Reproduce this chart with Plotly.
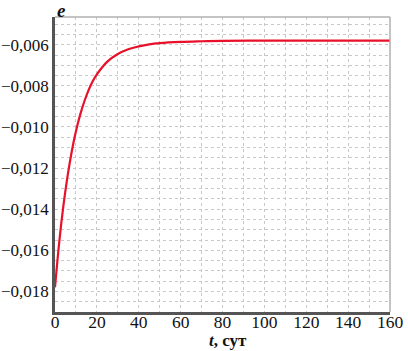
import plotly.graph_objects as go

t_days = [0, 2, 4, 6, 8, 10, 12, 14, 16, 18, 20, 25, 30, 35, 40, 45, 50, 60, 70, 80, 100, 120, 140, 160]
e_vals = [-0.0178, -0.01562, -0.01384, -0.01239, -0.01119, -0.01021, -0.00941, -0.00876,
          -0.00822, -0.00778, -0.00744, -0.00682, -0.00645, -0.00622, -0.00608, -0.00598,
          -0.00592, -0.00586, -0.00583, -0.00581, -0.0058, -0.0058, -0.0058, -0.0058]

x_ticks = [0, 20, 40, 60, 80, 100, 120, 140, 160]
y_ticks = [-0.018, -0.016, -0.014, -0.012, -0.010, -0.008, -0.006]

FONT = "Liberation Serif"

fig = go.Figure()
fig.add_trace(go.Scatter(x=t_days, y=e_vals, mode="lines",
                         line=dict(color="#e8102a", width=2.2, shape="spline"),
                         hoverinfo="skip", showlegend=False))

grid = "#c8c8c8"
fig.update_layout(
    width=408, height=351,
    autosize=False,
    margin=dict(l=55, r=18, t=17, b=39, autoexpand=False),
    paper_bgcolor="white", plot_bgcolor="white",
    separators=", ",
    font=dict(family=FONT, size=16, color="#111111"),
    xaxis=dict(range=[0, 160], tickvals=x_ticks, ticktext=[str(v) for v in x_ticks],
               automargin=False, ticklabelstandoff=-8,
               showgrid=True, gridcolor=grid, griddash="dot", gridwidth=1,
               minor=dict(dtick=10, tick0=0, showgrid=True, gridcolor=grid, griddash="dot", gridwidth=1),
               showline=True, linecolor="#555555", linewidth=2.5, mirror=False,
               ticks="", zeroline=False, tickfont=dict(family=FONT, size=17.5, color="#111111")),
    yaxis=dict(range=[-0.0190, -0.00465], tickvals=y_ticks, tickformat=".3f",
               automargin=False, ticklabelstandoff=0,
               showgrid=True, gridcolor=grid, griddash="dot", gridwidth=1,
               minor=dict(dtick=0.0005, tick0=0, showgrid=True, gridcolor=grid, griddash="dot", gridwidth=1),
               showline=True, linecolor="#555555", linewidth=2.5, mirror=False,
               ticks="", zeroline=False, tickfont=dict(family=FONT, size=17, color="#111111")),
    shapes=[
        dict(type="line", xref="paper", yref="paper", x0=0, x1=1, y0=1, y1=1,
             line=dict(color="#b0b0b0", width=1.5)),
        dict(type="line", xref="paper", yref="paper", x0=1, x1=1, y0=0, y1=1,
             line=dict(color="#b0b0b0", width=1.5)),
    ],
    annotations=[
        dict(text="<b><i>e</i></b>", xref="paper", yref="paper", x=0.0, y=1.0,
             xanchor="left", yanchor="bottom", showarrow=False, yshift=-6,
             font=dict(family=FONT, size=19)),
        dict(text="<b><i>t</i>, сут</b>", xref="paper", yref="paper", x=0.515, y=0,
             xanchor="center", yanchor="top", showarrow=False, yshift=-17,
             font=dict(family=FONT, size=17)),
    ],
)

fig.write_html("out.html", config={"displayModeBar": False},
               post_script="document.body.style.margin='0px';document.body.style.padding='0px';")
